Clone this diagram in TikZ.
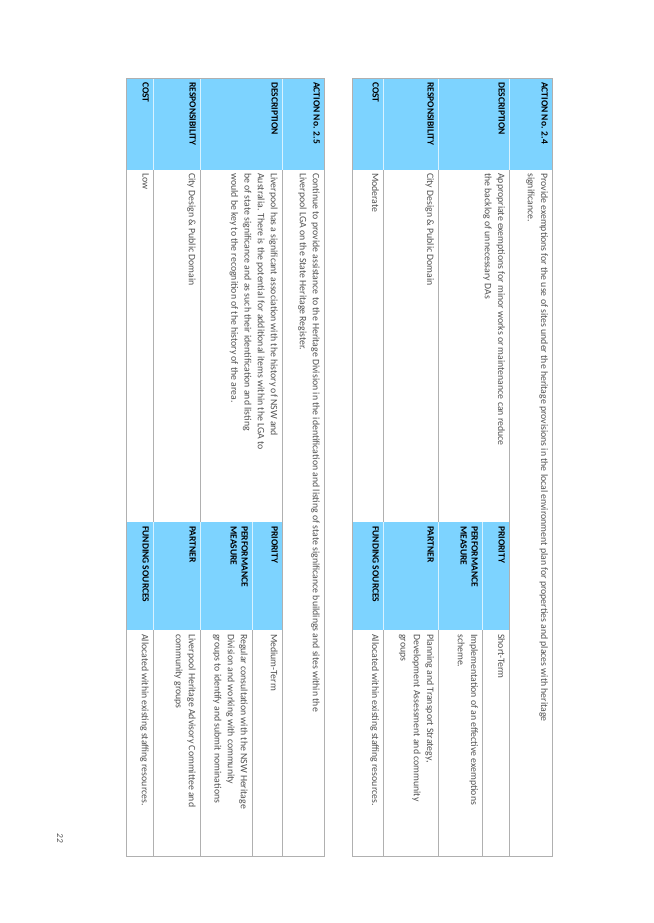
\documentclass[tikz,border=0pt]{standalone}
\usepackage{fontspec}
\setmainfont{Carlito}
\usepackage{xcolor}
\definecolor{hdrblue}{HTML}{7DD3FF}
\definecolor{rulegray}{HTML}{B0B0B0}
\definecolor{bodygray}{HTML}{505050}

\begin{document}
\begin{tikzpicture}[x=1pt,y=1pt]
	\tikzset{lbl/.style={anchor=north west,inner sep=0pt,font=\fontsize{9.5}{11}\selectfont\bfseries,align=left},
		txt/.style={anchor=north west,inner sep=0pt,font=\fontsize{9.8}{13.2}\selectfont,text=bodygray,align=left}}
	\begin{scope}[shift={(0,923)},rotate=-90,transform shape]
	\useasboundingbox (0,0) rectangle (923,653);
	% table 2.4
	\fill [hdrblue] (78,552) rectangle (170,352);
	\fill [hdrblue] (522,509) rectangle (630,352);
	\draw [white!70!hdrblue] (78,509) -- (170,509) (78,438) -- (170,438) (78,383) -- (170,383);
	\draw [white!70!hdrblue] (522,482) -- (630,482) (522,438) -- (630,438) (522,383) -- (630,383);
	\draw [rulegray] (170,509) -- (856,509) (170,438) -- (522,438) (630,438) -- (856,438);
	\draw [rulegray] (170,383) -- (522,383) (630,383) -- (856,383) (630,482) -- (856,482);
	\draw [rulegray,line width=0.8pt] (78,352) rectangle (856,552);
	\node [lbl] (a24) at (82,548) {ACTION No. 2.4};
	\node [lbl] (d24) at (82,505) {DESCRIPTION};
	\node [lbl] (r24) at (82,434) {RESPONSIBILITY};
	\node [lbl] (c24) at (82,379) {COST};
	\node [lbl] (p24) at (526,505) {PRIORITY};
	\node [lbl] (m24) at (526,478) {PERFORMANCE\\MEASURE};
	\node [lbl] (t24) at (526,434) {PARTNER};
	\node [lbl] (f24) at (526,379) {FUNDING SOURCES};
	\node [txt] (ta24) at (173,548) {Provide exemptions for the use of sites under the heritage provisions in the local environment plan for properties and places with heritage\\significance.};
	\node [txt] (td24) at (173,505) {Appropriate exemptions for minor works or maintenance can reduce\\the backlog of unnecessary DAs};
	\node [txt] (tr24) at (173,434) {City Design \& Public Domain};
	\node [txt] (tc24) at (173,379) {Moderate};
	\node [txt] (tp24) at (634,505) {Short-Term};
	\node [txt] (tm24) at (634,478) {Implementation of an effective exemptions\\scheme.};
	\node [txt] (tt24) at (634,434) {Planning and Transport Strategy,\\Development Assessment and community\\groups};
	\node [txt] (tf24) at (634,379) {Allocated within existing staffing resources.};
	% table 2.5
	\fill [hdrblue] (78,324) rectangle (170,126);
	\fill [hdrblue] (522,282) rectangle (630,126);
	\draw [white!70!hdrblue] (78,282) -- (170,282) (78,200) -- (170,200) (78,153) -- (170,153);
	\draw [white!70!hdrblue] (522,252) -- (630,252) (522,200) -- (630,200) (522,153) -- (630,153);
	\draw [rulegray] (170,282) -- (856,282) (170,200) -- (522,200) (630,200) -- (856,200);
	\draw [rulegray] (170,153) -- (522,153) (630,153) -- (856,153) (630,252) -- (856,252);
	\draw [rulegray,line width=0.8pt] (78,126) rectangle (856,324);
	\node [lbl] (a25) at (82,320) {ACTION No. 2.5};
	\node [lbl] (d25) at (82,278) {DESCRIPTION};
	\node [lbl] (r25) at (82,196) {RESPONSIBILITY};
	\node [lbl] (c25) at (82,149) {COST};
	\node [lbl] (p25) at (526,278) {PRIORITY};
	\node [lbl] (m25) at (526,248) {PERFORMANCE\\MEASURE};
	\node [lbl] (t25) at (526,196) {PARTNER};
	\node [lbl] (f25) at (526,149) {FUNDING SOURCES};
	\node [txt] (ta25) at (173,320) {Continue to provide assistance to the Heritage Division in the identification and listing of state significance buildings and sites within the\\Liverpool LGA on the State Heritage Register.};
	\node [txt] (td25) at (173,278) {Liverpool has a significant association with the history of NSW and\\Australia. There is the potential for additional items within the LGA to\\be of state significance and as such their identification and listing\\would be key to the recognition of the history of the area.};
	\node [txt] (tr25) at (173,196) {City Design \& Public Domain};
	\node [txt] (tc25) at (173,149) {Low};
	\node [txt] (tp25) at (634,278) {Medium-Term};
	\node [txt] (tm25) at (634,248) {Regular consultation with the NSW Heritage\\Division and working with community\\groups to identify and submit nominations};
	\node [txt] (tt25) at (634,196) {Liverpool Heritage Advisory Committee and\\community groups};
	\node [txt] (tf25) at (634,149) {Allocated within existing staffing resources.};
	\node [font=\fontsize{9}{11}\selectfont\itshape,text=bodygray] (pg) at (838,60) {22};
	\end{scope}
\end{tikzpicture}
\end{document}
